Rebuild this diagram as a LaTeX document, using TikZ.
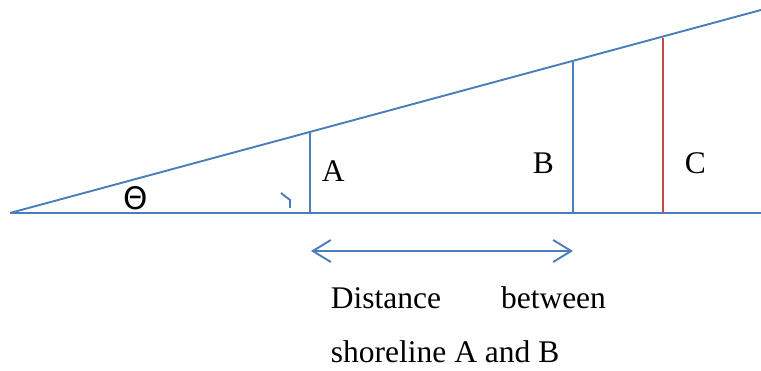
\documentclass[tikz,border=0pt]{standalone}
\usepackage{fontspec}
\setmainfont{Liberation Serif}
\newfontfamily\thetafont{DejaVu Sans}
\usetikzlibrary{arrows.meta, positioning, calc}
\definecolor{shore}{HTML}{4A7EBB}
\definecolor{shoreC}{HTML}{BE4B48}

\begin{document}
\begin{tikzpicture}[x=1pt, y=-1pt, line width=1.9pt,
    lbl/.style={inner sep=0pt, font=\fontsize{31.5}{36}\selectfont},
    barb/.style={{Straight Barb[length=18pt,width=22pt]}-{Straight Barb[length=18pt,width=22pt]}}]
  \useasboundingbox (0,0) rectangle (761,371);
  % ground and slope
  \coordinate (O) at (10,213);
  \coordinate (E) at (761,213);
  \coordinate (T) at (761,10);
  \draw[shore] (O) -- (E);
  \draw[shore] (O) -- (T);
  % shorelines
  \coordinate (A0) at (310,213); \coordinate (A1) at (310,132);
  \coordinate (B0) at (573,213); \coordinate (B1) at (573,62);
  \coordinate (C0) at (663,213); \coordinate (C1) at (663,38);
  \draw[shore] (A0) -- (A1);
  \draw[shore] (B0) -- (B1);
  \draw[shoreC] (C0) -- (C1);
  \node[lbl, anchor=base west] (a) at (321,182) {A};
  \node[lbl, anchor=base west] (b) at (532,174) {B};
  \node[lbl, anchor=base west] (c) at (684,174) {C};
  % angle
  \node[inner sep=0pt, font=\thetafont\fontsize{31}{36}\selectfont] (theta) at (135.5,198) {Θ};
  \draw[shore] (281,193) -- (290,200) -- (290,208);
  % distance
  \coordinate (dl) at (311,251);
  \coordinate (dr) at (573,251);
  \draw[shore, barb] (dl) -- (dr);
  \node[lbl, anchor=base west, text width=275pt] (dist) at (330,309) {Distance\hfill between};
  \node[lbl, anchor=base west] (shoreAB) at (330,363) {shoreline A and B};
\end{tikzpicture}
\end{document}
